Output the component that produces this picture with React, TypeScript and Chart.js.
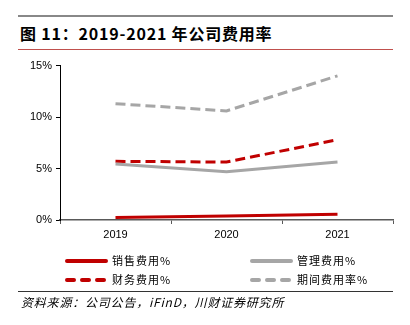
import React, { useEffect, useRef } from "react";
import { Chart, registerables } from "chart.js";

Chart.register(...registerables);

const categories = ["2019", "2020", "2021"];
const salesRate = [0.25, 0.4, 0.55];
const adminRate = [5.44, 4.68, 5.63];
const financeRate = [5.7, 5.63, 7.8];
const periodRate = [11.3, 10.6, 14.0];
const yTicks = [0, 5, 10, 15];

const RED = "#C00000";
const GREY = "#A6A6A6";

const legendItems = [
  { label: "销售费用%", color: RED, dashed: false, x: 65, y: 261 },
  { label: "管理费用%", color: GREY, dashed: false, x: 250, y: 261 },
  { label: "财务费用%", color: RED, dashed: true, x: 65, y: 280 },
  { label: "期间费用率%", color: GREY, dashed: true, x: 250, y: 280 },
];

export default function App() {
  const ref = useRef<HTMLCanvasElement>(null);
  useEffect(() => {
    if (!ref.current) return;
    const chart = new Chart(ref.current, {
      type: "line",
      data: {
        labels: categories,
        datasets: [
          { label: "销售费用%", data: salesRate, borderColor: RED, backgroundColor: RED, borderWidth: 3, pointRadius: 0, tension: 0 },
          { label: "管理费用%", data: adminRate, borderColor: GREY, backgroundColor: GREY, borderWidth: 3, pointRadius: 0, tension: 0 },
          { label: "财务费用%", data: financeRate, borderColor: RED, backgroundColor: RED, borderWidth: 3, borderDash: [10, 5], pointRadius: 0, tension: 0 },
          { label: "期间费用率%", data: periodRate, borderColor: GREY, backgroundColor: GREY, borderWidth: 3, borderDash: [10, 5], pointRadius: 0, tension: 0 },
        ],
      },
      options: {
        animation: false,
        responsive: false,
        layout: { padding: { top: 7, right: 17, left: 0, bottom: 0 } },
        plugins: { legend: { display: false }, tooltip: { enabled: false } },
        scales: {
          x: {
            offset: true,
            grid: { display: true, drawOnChartArea: false, drawTicks: true, tickLength: 4, color: "#595959", offset: true },
            border: { color: "#595959", width: 1.5 },
            ticks: { color: "#000", font: { family: "Liberation Sans", size: 11 }, padding: 4 },
            afterFit: (s: any) => { s.height = 20; },
          },
          y: {
            min: 0,
            max: 15,
            afterBuildTicks: (s: any) => { s.ticks = yTicks.map((v) => ({ value: v })); },
            grid: { display: true, drawOnChartArea: false, drawTicks: true, tickLength: 4, color: "#000" },
            border: { color: "#000", width: 1 },
            ticks: { color: "#000", font: { family: "Liberation Sans", size: 11 }, padding: 4, callback: (v: any) => v + "%" },
            afterFit: (s: any) => { s.width = 60; },
          },
        },
      },
    });
    return () => chart.destroy();
  }, []);

  return (
    <div style={{ position: "fixed", left: 0, top: 0, width: 410, height: 325, background: "#fff", overflow: "hidden" }}>
      <div style={{ position: "absolute", left: 18, top: 15, width: 375, height: 2, background: "#888" }} />
      <div style={{ position: "absolute", left: 20, top: 22, fontFamily: "'Noto Sans CJK SC'", fontWeight: 700, fontSize: 16, lineHeight: "22px", letterSpacing: 0.8, color: "#000", whiteSpace: "nowrap" }}>
        图 11：2019-2021 年公司费用率
      </div>
      <div style={{ position: "absolute", left: 18, top: 49, width: 375, height: 1, background: "#C0504D" }} />
      <canvas ref={ref} width={410} height={185} style={{ position: "absolute", left: 0, top: 55, width: 410, height: 185 }} />
      <svg width={410} height={325} style={{ position: "absolute", left: 0, top: 0 }}>
        {legendItems.map((it) => (
          <g key={it.label}>
            <line x1={it.x + 2} y1={it.y} x2={it.x + 41} y2={it.y} stroke={it.color} strokeWidth={4} strokeLinecap="round"
              strokeDasharray={it.dashed ? "7 8" : undefined} />
            <text x={it.x + 47} y={it.y + 4} fontFamily="'Noto Sans CJK SC'" fontSize={11} letterSpacing={1} fill="#000">{it.label}</text>
          </g>
        ))}
      </svg>
      <div style={{ position: "absolute", left: 18, top: 291, width: 375, height: 1, background: "#333" }} />
      <div style={{ position: "absolute", left: 21, top: 294, fontFamily: "'Noto Sans CJK SC'", fontStyle: "italic", fontSize: 12, lineHeight: "16px", letterSpacing: 0.8, color: "#000", whiteSpace: "nowrap" }}>
        资料来源：公司公告，iFinD，川财证券研究所
      </div>
    </div>
  );
}
